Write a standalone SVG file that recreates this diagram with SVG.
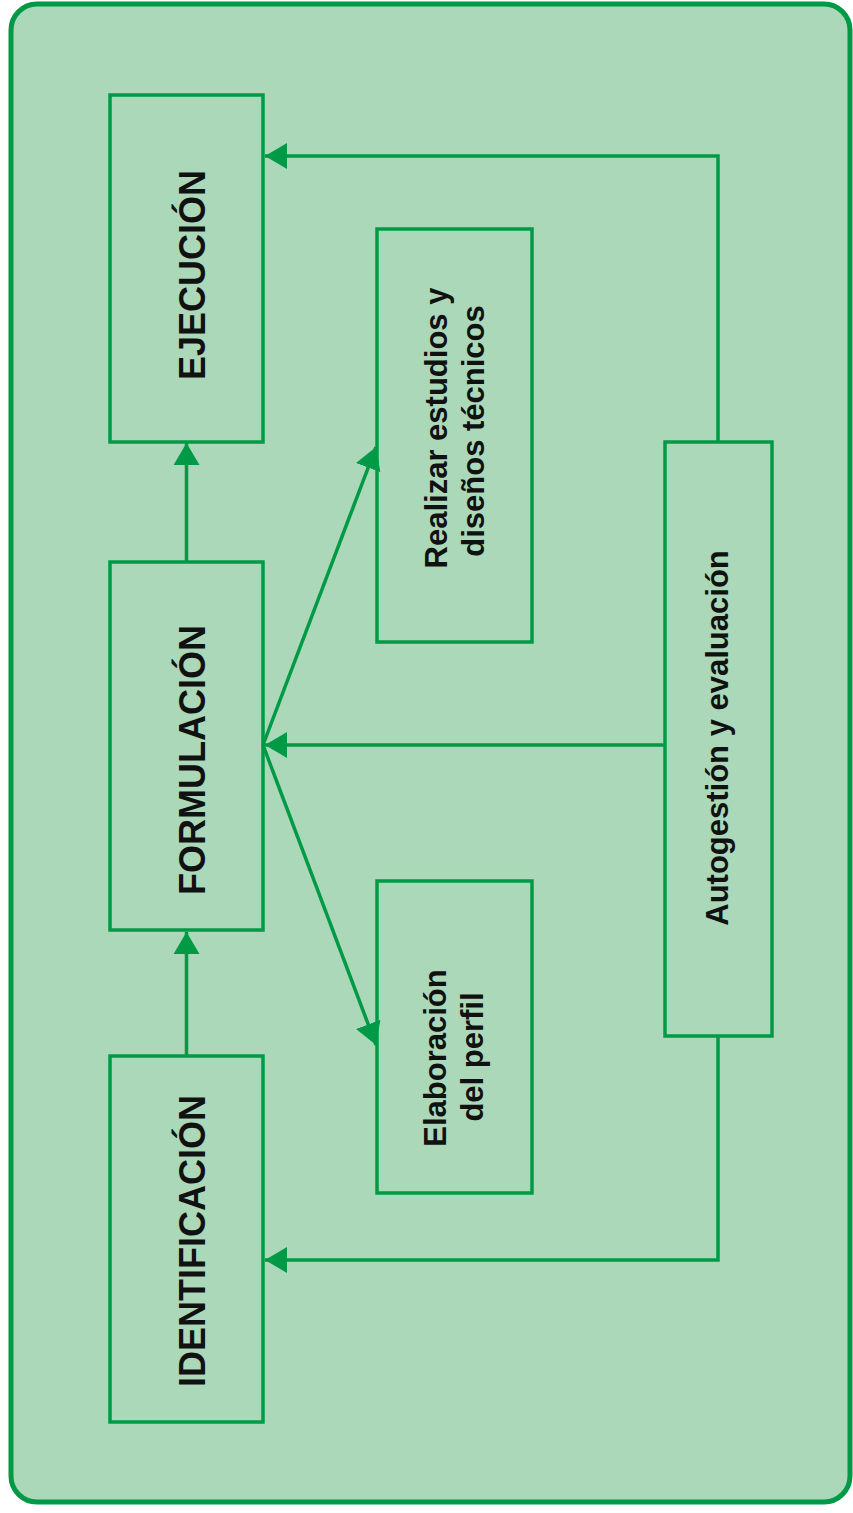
<svg xmlns="http://www.w3.org/2000/svg" width="853" height="1513" viewBox="0 0 853 1513">
<style>
.box{fill:none;stroke:#009a47;stroke-width:3.5}
.ln{fill:none;stroke:#009a47;stroke-width:3.5}
.arr{marker-end:url(#ah)}
.big{font-family:"Liberation Sans",Arial,sans-serif;font-weight:bold;font-size:36px;fill:#111;text-anchor:middle}
.sm{font-family:"Liberation Sans",Arial,sans-serif;font-weight:bold;font-size:31px;fill:#111;text-anchor:middle}
</style>
<defs>
<marker id="ah" markerUnits="userSpaceOnUse" markerWidth="24" markerHeight="26" refX="22" refY="13" orient="auto">
<path d="M0,0 L22,13 L0,26 Z" fill="#009a47"/>
</marker>
</defs>
<rect id="frame" x="11" y="4" width="839" height="1498" rx="26" ry="26" fill="#aad8b8" stroke="#009a47" stroke-width="5"/>
<g id="connectors">
<path class="ln arr" d="M718,442 L718,156 L265,156"/>
<path class="ln arr" d="M665,745 L265,745"/>
<path class="ln arr" d="M718,1036 L718,1260 L265,1260"/>
<path class="ln arr" d="M186.5,562 L186.5,443"/>
<path class="ln arr" d="M186.5,1056 L186.5,932"/>
<path class="ln arr" d="M263,745 L376,447"/>
<path class="ln arr" d="M263,745 L376,1045"/>
</g>
<g id="ejecucion">
<rect class="box" x="110" y="95" width="153" height="347"/>
<text class="big" transform="translate(205,275) rotate(-90)">EJECUCIÓN</text>
</g>
<g id="formulacion">
<rect class="box" x="110" y="562" width="153" height="368"/>
<text class="big" transform="translate(205,760) rotate(-90)">FORMULACIÓN</text>
</g>
<g id="identificacion">
<rect class="box" x="110" y="1056" width="153" height="366"/>
<text class="big" transform="translate(205,1241) rotate(-90)">IDENTIFICACIÓN</text>
</g>
<g id="realizar">
<rect class="box" x="377" y="229" width="155" height="413"/>
<text class="sm" transform="translate(447,428) rotate(-90)">Realizar estudios y</text>
<text class="sm" transform="translate(484,431) rotate(-90)">diseños técnicos</text>
</g>
<g id="elaboracion">
<rect class="box" x="377" y="881" width="155" height="312"/>
<text class="sm" transform="translate(446,1058) rotate(-90)">Elaboración</text>
<text class="sm" transform="translate(483,1057) rotate(-90)">del perfil</text>
</g>
<g id="autogestion">
<rect class="box" x="665" y="442" width="107" height="594"/>
<text class="sm" transform="translate(728,738) rotate(-90)">Autogestión y evaluación</text>
</g>
</svg>
